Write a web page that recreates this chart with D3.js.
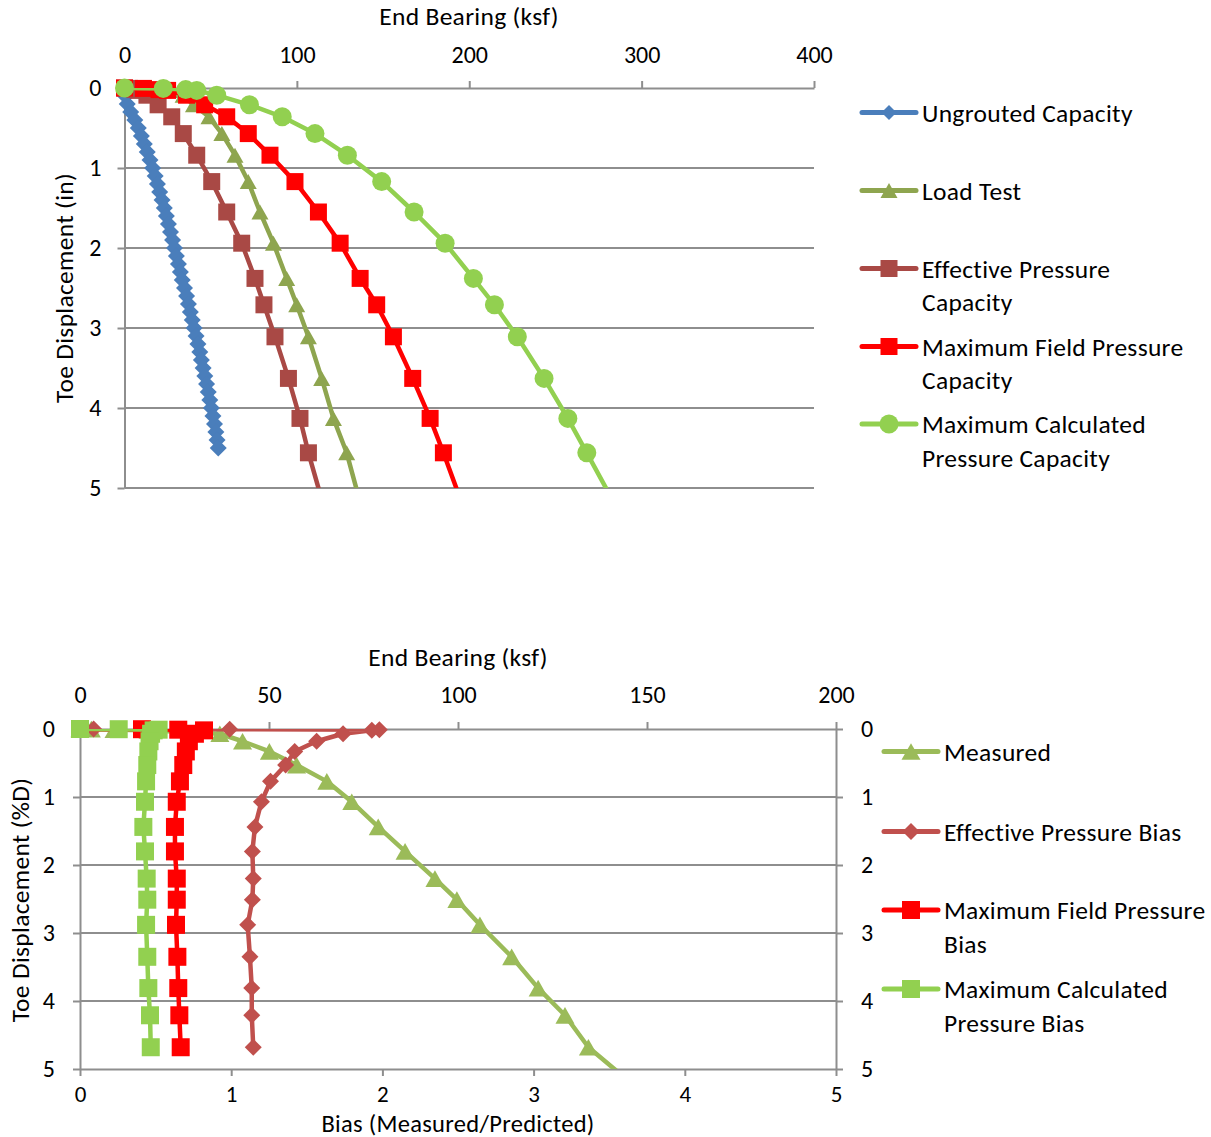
<!DOCTYPE html>
<html>
<head>
<meta charset="utf-8">
<script src="https://cdn.jsdelivr.net/npm/d3@7"></script>
<style>
  body { margin: 0; background: #fff; }
  text { font-family: Carlito, Lato, "Open Sans", sans-serif; fill: #000; }
</style>
</head>
<body>
<svg id="chart" width="1211" height="1137"></svg>
<script>
// ---------- Upper chart: end bearing (ksf) vs toe displacement (in) ----------
const ungroutedDisp = [0.1, 0.2, 0.3, 0.4, 0.5, 0.6, 0.7, 0.8, 0.9, 1.0,
  1.1, 1.2, 1.3, 1.4, 1.5, 1.6, 1.7, 1.8, 1.9, 2.0,
  2.1, 2.2, 2.3, 2.4, 2.5, 2.6, 2.7, 2.8, 2.9, 3.0,
  3.1, 3.2, 3.3, 3.4, 3.5, 3.6, 3.7, 3.8, 3.9, 4.0,
  4.1, 4.2, 4.3, 4.4, 4.5];
const ungroutedCapacity = [0.5, 1.6, 3.6, 6.0, 8.0, 9.8, 11.5, 13.2, 14.8, 16.3,
  17.8, 19.1, 20.4, 21.8, 23.1, 24.3, 25.5, 26.7, 27.9, 29.0,
  30.1, 31.3, 32.4, 33.5, 34.8, 36.0, 37.1, 38.2, 39.3, 40.4,
  41.5, 42.6, 43.7, 44.6, 45.6, 46.6, 47.6, 48.6, 49.5, 50.4,
  51.3, 52.2, 53.0, 53.7, 54.4];

const testDisp = [0, 0.005, 0.02, 0.03, 0.09, 0.21, 0.36, 0.57, 0.84, 1.17,
  1.55, 1.94, 2.38, 2.71, 3.11, 3.63, 4.13, 4.56, 5.3];
const loadTest = [0, 12, 22, 28, 34, 40, 49, 56.5, 64.1, 71.8,
  78.6, 86.4, 94.1, 99.9, 106.7, 114.4, 121.2, 128.9, 138.2];
const effectiveCapacity = [0, 3, 6, 8, 13, 19.5, 27.4, 34.1, 41.9, 50.6,
  59.3, 68.0, 75.7, 80.9, 87.3, 95.1, 101.8, 106.7, 116.5];
const maxFieldCapacity = [0, 11, 20, 25, 36, 46.5, 59.3, 71.8, 84.4, 98.9,
  112.5, 125.1, 136.7, 146.3, 156.0, 167.2, 177.3, 185.0, 197.6];
const maxCalcCapacity = [0, 22.5, 35.5, 41.9, 53.5, 72.5, 91.5, 110.5, 129.3, 149.2,
  168.0, 186.0, 202.4, 214.6, 227.9, 243.4, 257.2, 268.2, 286.9];

// ---------- Lower chart: bias and measured bearing vs toe displacement (%D) ----------
const biasDisp = [0, 0.003, 0.01, 0.02, 0.07, 0.18, 0.33, 0.53, 0.77, 1.07,
  1.44, 1.80, 2.20, 2.51, 2.88, 3.35, 3.81, 4.21, 4.68, 5.3];
const measured = [0, 3, 9, 18, 37, 43, 50.1, 57.3, 65.3, 71.9,
  78.9, 86.0, 93.9, 99.7, 105.8, 114.2, 121.2, 128.3, 134.5, 147.8];
const effectiveBias = [0.09, 0.99, 1.98, 1.93, 1.74, 1.565, 1.42, 1.36, 1.26, 1.20,
  1.157, 1.14, 1.146, 1.14, 1.109, 1.124, 1.136, 1.136, 1.146];
const maxFieldBias = [0, 0.41, 0.65, 0.82, 0.76, 0.72, 0.70, 0.683, 0.661, 0.64,
  0.628, 0.628, 0.64, 0.64, 0.635, 0.644, 0.65, 0.657, 0.666];
const maxCalcBias = [0, 0.256, 0.52, 0.487, 0.47, 0.46, 0.452, 0.445, 0.437, 0.43,
  0.419, 0.43, 0.441, 0.445, 0.437, 0.445, 0.452, 0.463, 0.468];

// ---------- Tick values ----------
const upperBearingTicks = [0, 100, 200, 300, 400];
const lowerBearingTicks = [0, 50, 100, 150, 200];
const dispTicks = [0, 1, 2, 3, 4, 5];
const biasTicks = [0, 1, 2, 3, 4, 5];

const TICK_FONT = 24;
const LABEL_FONT = 25.5;
const GRID = "#8e8e8e";
const svg = d3.select("#chart");

function markerPath(shape, s) {
  const h = s / 2;
  if (shape === "square") return `M${-h},${-h}H${h}V${h}H${-h}Z`;
  if (shape === "diamond") return `M0,${-h}L${h},0L0,${h}L${-h},0Z`;
  if (shape === "triangle") return `M0,${-h * 0.88}L${h},${h * 0.88}L${-h},${h * 0.88}Z`;
  return d3.symbol(d3.symbolCircle, Math.PI * h * h)();
}

function drawSeries(g, xs, ys, x, y, o) {
  const pts = d3.zip(xs, ys);
  g.append("path")
    .datum(pts)
    .attr("clip-path", `url(#${o.clip})`)
    .attr("fill", "none")
    .attr("stroke", o.color)
    .attr("stroke-width", o.width)
    .attr("stroke-linejoin", "round")
    .attr("d", d3.line().x(p => x(p[1])).y(p => y(p[0])));
  g.selectAll(null)
    .data(pts.filter(p => p[0] <= 5))
    .join("path")
    .attr("transform", p => `translate(${x(p[1])},${y(p[0])})`)
    .attr("d", markerPath(o.shape, o.size))
    .attr("fill", o.color);
}

function styleAxis(sel, size = TICK_FONT) {
  sel.select(".domain").attr("stroke", GRID).attr("stroke-width", 2);
  sel.selectAll(".tick line").attr("stroke", GRID).attr("stroke-width", 2);
  sel.selectAll(".tick text").attr("font-size", size).attr("fill", "#000")
    .style("font-family", "Carlito, Lato, sans-serif");
}

function addLabel(g, text, x, y, rotate, size = LABEL_FONT) {
  g.append("text")
    .attr("transform", `translate(${x},${y})` + (rotate ? " rotate(-90)" : ""))
    .attr("text-anchor", "middle")
    .attr("font-size", size)
    .attr("letter-spacing", 0.3)
    .text(text);
}

function legend(g, items, x0, x1, tx) {
  items.forEach(it => {
    g.append("line").attr("x1", x0).attr("x2", x1).attr("y1", it.y).attr("y2", it.y)
      .attr("stroke", it.color).attr("stroke-width", 5).attr("stroke-linecap", "round");
    g.append("path").attr("transform", `translate(${(x0 + x1) / 2},${it.y})`)
      .attr("d", markerPath(it.shape, it.size)).attr("fill", it.color);
    const t = g.append("text").attr("x", tx).attr("y", it.y + 9)
      .attr("font-size", LABEL_FONT).attr("letter-spacing", 0.3);
    it.lines.forEach((ln, i) => {
      t.append("tspan").attr("x", tx).attr("dy", i === 0 ? 0 : 33.5).text(ln);
    });
  });
}

const intFmt = d3.format("d");

// ================= Upper chart =================
{
  const L = 124.5, R = 814, T = 88, B = 488;
  const x = d3.scaleLinear().domain([0, 400]).range([L, R]);
  const y = d3.scaleLinear().domain([0, 5]).range([T, B]);
  const g = svg.append("g");

  g.append("clipPath").attr("id", "clipUpper")
    .append("rect").attr("x", L).attr("y", T).attr("width", R - L).attr("height", B - T);

  // horizontal gridlines
  g.append("g").selectAll("line").data(dispTicks.filter(d => d > 0)).join("line")
    .attr("x1", L).attr("x2", R).attr("y1", d => y(d)).attr("y2", d => y(d))
    .attr("stroke", GRID).attr("stroke-width", 2);

  g.append("g").attr("transform", `translate(0,${T})`)
    .call(d3.axisTop(x).tickValues(upperBearingTicks).tickFormat(intFmt)
      .tickSize(7).tickSizeOuter(0).tickPadding(18))
    .call(styleAxis);
  g.append("g").attr("transform", `translate(${L},0)`)
    .call(d3.axisLeft(y).tickValues(dispTicks).tickFormat(intFmt)
      .tickSize(7).tickSizeOuter(0).tickPadding(16))
    .call(styleAxis);

  addLabel(g, "End Bearing (ksf)", 469, 25, false);
  addLabel(g, "Toe Displacement (in)", 73, 288, true);

  const series = g.append("g");
  drawSeries(series, ungroutedDisp, ungroutedCapacity, x, y,
    { color: "#4a7ebb", shape: "diamond", size: 17, width: 4.5, clip: "clipUpper" });
  drawSeries(series, testDisp, loadTest, x, y,
    { color: "#8ea54f", shape: "triangle", size: 17, width: 4.5, clip: "clipUpper" });
  drawSeries(series, testDisp, effectiveCapacity, x, y,
    { color: "#a94945", shape: "square", size: 17, width: 4.5, clip: "clipUpper" });
  drawSeries(series, testDisp, maxFieldCapacity, x, y,
    { color: "#ff0000", shape: "square", size: 17, width: 4.5, clip: "clipUpper" });
  drawSeries(series, testDisp, maxCalcCapacity, x, y,
    { color: "#92d050", shape: "circle", size: 19, width: 4.5, clip: "clipUpper" });

  legend(g, [
    { y: 112.5, color: "#4a7ebb", shape: "diamond", size: 15, lines: ["Ungrouted Capacity"] },
    { y: 190.5, color: "#8ea54f", shape: "triangle", size: 17, lines: ["Load Test"] },
    { y: 268.5, color: "#a94945", shape: "square", size: 17, lines: ["Effective Pressure", "Capacity"] },
    { y: 346.5, color: "#ff0000", shape: "square", size: 17, lines: ["Maximum Field Pressure", "Capacity"] },
    { y: 424, color: "#92d050", shape: "circle", size: 19, lines: ["Maximum Calculated", "Pressure Capacity"] }
  ], 862, 916, 922);
}

// ================= Lower chart =================
{
  const L = 80, R = 836, T = 729, B = 1069;
  const xb = d3.scaleLinear().domain([0, 200]).range([L, R]);
  const xr = d3.scaleLinear().domain([0, 5]).range([L, R]);
  const y = d3.scaleLinear().domain([0, 5]).range([T, B]);
  const g = svg.append("g");

  g.append("clipPath").attr("id", "clipLower")
    .append("rect").attr("x", L).attr("y", T).attr("width", R - L).attr("height", B - T);

  g.append("g").selectAll("line").data(dispTicks.filter(d => d > 0 && d < 5)).join("line")
    .attr("x1", L).attr("x2", R).attr("y1", d => y(d)).attr("y2", d => y(d))
    .attr("stroke", GRID).attr("stroke-width", 2);

  g.append("g").attr("transform", `translate(0,${T})`)
    .call(d3.axisTop(xb).tickValues(lowerBearingTicks).tickFormat(intFmt)
      .tickSize(7).tickSizeOuter(0).tickPadding(19))
    .call(styleAxis);
  g.append("g").attr("transform", `translate(0,${B})`)
    .call(d3.axisBottom(xr).tickValues(biasTicks).tickFormat(intFmt)
      .tickSize(7).tickSizeOuter(0).tickPadding(10))
    .call(sel => styleAxis(sel, 23));
  g.append("g").attr("transform", `translate(${L},0)`)
    .call(d3.axisLeft(y).tickValues(dispTicks).tickFormat(intFmt)
      .tickSize(7).tickSizeOuter(0).tickPadding(18))
    .call(styleAxis);
  g.append("g").attr("transform", `translate(${R},0)`)
    .call(d3.axisRight(y).tickValues(dispTicks).tickFormat(intFmt)
      .tickSize(7).tickSizeOuter(0).tickPadding(18))
    .call(styleAxis);

  addLabel(g, "End Bearing (ksf)", 458, 666, false);
  addLabel(g, "Bias (Measured/Predicted)", 458, 1131.5, false, 24.5);
  addLabel(g, "Toe Displacement (%D)", 29, 900, true);

  const series = g.append("g");
  drawSeries(series, biasDisp, measured, xb, y,
    { color: "#9bbb59", shape: "triangle", size: 19, width: 4.5, clip: "clipLower" });
  drawSeries(series, biasDisp, effectiveBias, xr, y,
    { color: "#c0504d", shape: "diamond", size: 17, width: 4.5, clip: "clipLower" });
  drawSeries(series, biasDisp, maxFieldBias, xr, y,
    { color: "#ff0000", shape: "square", size: 18, width: 4.5, clip: "clipLower" });
  drawSeries(series, biasDisp, maxCalcBias, xr, y,
    { color: "#92d050", shape: "square", size: 18, width: 4.5, clip: "clipLower" });

  legend(g, [
    { y: 751.5, color: "#9bbb59", shape: "triangle", size: 19, lines: ["Measured"] },
    { y: 831.5, color: "#c0504d", shape: "diamond", size: 17, lines: ["Effective Pressure Bias"] },
    { y: 910, color: "#ff0000", shape: "square", size: 18, lines: ["Maximum Field Pressure", "Bias"] },
    { y: 989, color: "#92d050", shape: "square", size: 18, lines: ["Maximum Calculated", "Pressure Bias"] }
  ], 884, 938, 944);
}
</script>
</body>
</html>
